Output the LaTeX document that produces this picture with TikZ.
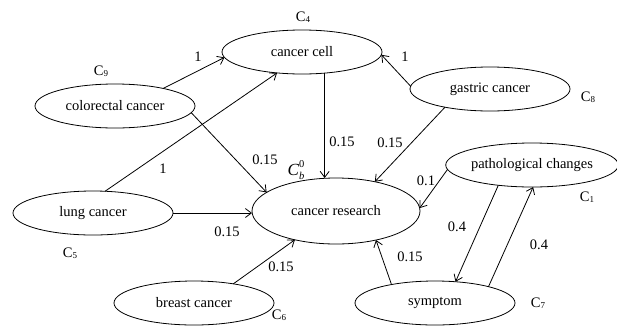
\documentclass[tikz,border=0pt]{standalone}
\usepackage{fontspec}
\setmainfont{Liberation Serif}
\usetikzlibrary{shapes.geometric,arrows.meta,calc}
\newcommand{\Csub}[1]{C\raisebox{-0.15ex}{\fontsize{9}{9}\selectfont #1}}
\begin{document}
\begin{tikzpicture}[x=1pt,y=-1pt,
  every node/.style={font=\fontsize{14.5}{17}\selectfont},
  ell/.style={draw,ellipse,line width=0.8pt,minimum width=160pt,minimum height=44pt,inner sep=0pt,outer sep=0pt},
  lab/.style={inner sep=0pt},
  arr/.style={line width=0.8pt,-{Straight Barb[length=6pt,width=9pt]}}]
\useasboundingbox (0,0) rectangle (617,327);
\node[ell] (cell) at (302,52) {cancer cell};
\node[ell] (colo) at (115,106) {colorectal cancer};
\node[ell] (gas) at (490,89) {gastric cancer};
\node[ell] (path) at (532,165) {pathological changes};
\node[ell,minimum width=168pt,minimum height=66pt] (res) at (336,211) {cancer research};
\node[ell] (lung) at (93,213) {lung cancer};
\node[ell] (breast) at (194,303) {breast cancer};
\node[ell] (sym) at (435,303) {symptom};
% node labels
\node[lab] (c4) at (303,17) {\Csub{4}};
\node[lab] (c9) at (101,71) {\Csub{9}};
\node[lab] (c8) at (588,97) {\Csub{8}};
\node[lab] (c1) at (587,197) {\Csub{1}};
\node[lab] (c5) at (70,253) {\Csub{5}};
\node[lab] (c6) at (279,315) {\Csub{6}};
\node[lab] (c7) at (538,303) {\Csub{7}};
\node[lab] (cb) at (296,170) {\fontsize{17}{17}\selectfont\textit{C}\makebox[0pt][l]{\raisebox{1.05ex}{\fontsize{10.5}{10}\selectfont 0}}\raisebox{-0.4ex}{\fontsize{10.5}{10}\selectfont\itshape b}};
% edges
\draw[arr] (colo.20) -- (cell.184);
\draw[arr] (lung.61) -- (cell.220);
\draw[arr] (colo.-5) -- (res.165);
\draw[arr] (cell.-43) -- (cell.-43 |- res.north);
\draw[arr] (gas.202) -- (res.37);
\draw[arr] (gas.178) -- (cell.-2);
\draw[arr] (path.183) -- (res.2);
\draw[arr] (lung.east) -- (lung.east -| res.west);
\draw[arr] (breast.26) -- (res.215);
\draw[arr] (sym.157) -- (res.-36);
\draw[arr] (path.211) -- (sym.46);
\draw[arr] (sym.17) -- (path.-87);
% edge labels
\node[lab] (w1) at (198,57) {1};
\node[lab] (w2) at (405,57) {1};
\node[lab] (w3) at (163,169) {1};
\node[lab] (w4) at (265,160) {0.15};
\node[lab] (w5) at (342,142) {0.15};
\node[lab] (w6) at (390,143) {0.15};
\node[lab] (w7) at (426,181) {0.1};
\node[lab] (w8) at (227,232) {0.15};
\node[lab] (w9) at (281,267) {0.15};
\node[lab] (w10) at (410,257) {0.15};
\node[lab] (w11) at (457,227) {0.4};
\node[lab] (w12) at (539,245) {0.4};
\end{tikzpicture}
\end{document}
